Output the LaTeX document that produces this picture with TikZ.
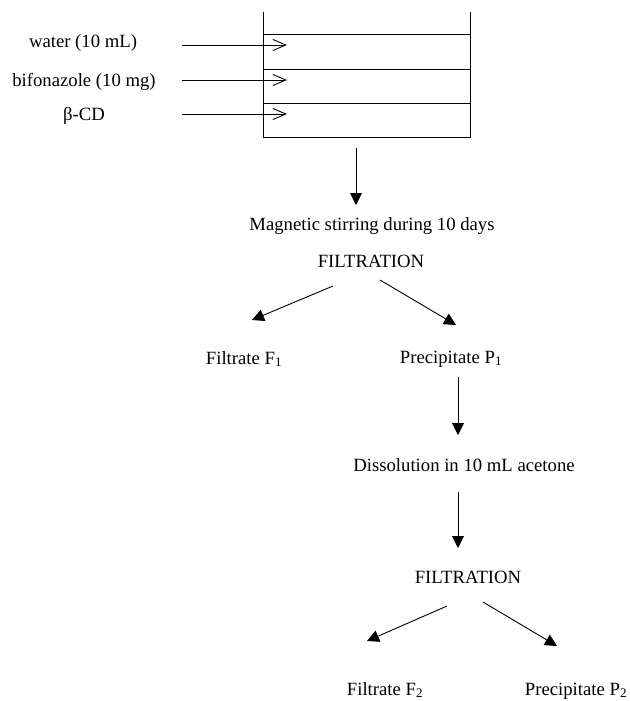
\documentclass[tikz,border=0pt]{standalone}
\usepackage{fontspec}
\setmainfont{Liberation Serif}
\usetikzlibrary{arrows.meta}
\begin{document}
\begin{tikzpicture}[x=1pt,y=-1pt,
  lbl/.style={anchor=base,inner sep=0pt,font=\fontsize{18.7}{22}\selectfont},
  ln/.style={line width=0.9pt},
  inarrow/.style={ln,-{Straight Barb[length=13pt,width=11pt,line width=0.9pt]}},
  flow/.style={ln,-{Triangle[length=12pt,width=12pt]}}]
\useasboundingbox (0,0) rectangle (629,701);
% beaker
\draw[ln] (263,12) -- (263,137) -- (470,137) -- (470,12);
\draw[ln] (263,34) -- (470,34);
\draw[ln] (263,69) -- (470,69);
\draw[ln] (263,103) -- (470,103);
% labels
\node[lbl] (water) at (83,48) {water (10 mL)};
\node[lbl] (bif) at (84,86) {bifonazole (10 mg)};
\node[lbl] (cd) at (84,120) {β-CD};
\node[lbl] (mag) at (372,230) {Magnetic stirring during 10 days};
\node[lbl] (filt1) at (371,267) {FILTRATION};
\node[lbl] (f1) at (244,364) {Filtrate F\textsubscript{1}};
\node[lbl] (p1) at (451,363) {Precipitate P\textsubscript{1}};
\node[lbl] (dis) at (464,471) {Dissolution in 10 mL acetone};
\node[lbl] (filt2) at (468,583) {FILTRATION};
\node[lbl] (f2) at (385,695) {Filtrate F\textsubscript{2}};
\node[lbl] (p2) at (576,695) {Precipitate P\textsubscript{2}};
% arrow end points
\coordinate (wa) at (182,45); \coordinate (wb) at (287,45);
\coordinate (ba) at (182,80); \coordinate (bb) at (287,80);
\coordinate (ca) at (182,114); \coordinate (cb) at (287,114);
\coordinate (d1a) at (356,148); \coordinate (d1b) at (356,205);
\coordinate (l1a) at (333,286); \coordinate (l1b) at (252,320);
\coordinate (r1a) at (380,280); \coordinate (r1b) at (456,325);
\coordinate (d2a) at (458,377); \coordinate (d2b) at (458,435);
\coordinate (d3a) at (458,492); \coordinate (d3b) at (458,548);
\coordinate (l2a) at (447,606); \coordinate (l2b) at (367,641);
\coordinate (r2a) at (483,602); \coordinate (r2b) at (557,646);
\draw[inarrow] (wa) -- (wb);
\draw[inarrow] (ba) -- (bb);
\draw[inarrow] (ca) -- (cb);
\draw[flow] (d1a) -- (d1b);
\draw[flow] (l1a) -- (l1b);
\draw[flow] (r1a) -- (r1b);
\draw[flow] (d2a) -- (d2b);
\draw[flow] (d3a) -- (d3b);
\draw[flow] (l2a) -- (l2b);
\draw[flow] (r2a) -- (r2b);
\end{tikzpicture}
\end{document}
